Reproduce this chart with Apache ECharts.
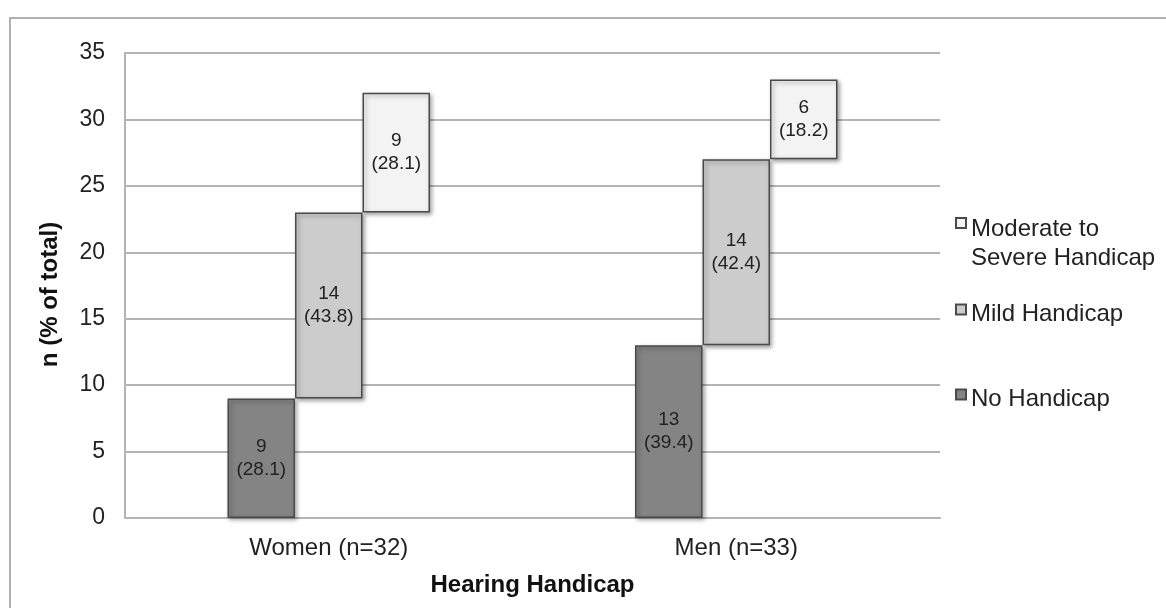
<!DOCTYPE html>
<html>
<head>
<meta charset="utf-8">
<script src="https://cdn.jsdelivr.net/npm/echarts@6/dist/echarts.min.js"></script>
<style>
  html, body { margin: 0; padding: 0; background: #fff; }
  #chart { width: 1166px; height: 608px; }
</style>
</head>
<body>
<div id="chart"></div>
<script>
// Hearing handicap by sex: counts and percentage of each group
const categories = ['Women (n=32)', 'Men (n=33)'];
const noHandicap = [9, 13];
const mildHandicap = [14, 14];
const moderateHandicap = [9, 6];
const noPct = ['28.1', '39.4'];
const mildPct = ['43.8', '42.4'];
const moderatePct = ['28.1', '18.2'];
const yTicks = { min: 0, max: 35, interval: 5 };

const FONT = '"Liberation Sans", Arial, Helvetica, sans-serif';
const GRID_GRAY = '#b4b4b4';
const EDGE = '#4a4a4a';

// each step starts where the previous one ended
const mildBase = noHandicap.map((v) => v);
const moderateBase = noHandicap.map((v, i) => v + mildHandicap[i]);

const barShadow = {
  borderColor: EDGE,
  borderWidth: 1.5,
  shadowColor: 'rgba(0,0,0,0.35)',
  shadowBlur: 4,
  shadowOffsetX: 2,
  shadowOffsetY: 2
};

function valueLabel(pcts) {
  return {
    show: true,
    position: 'inside',
    fontFamily: FONT,
    fontSize: 19,
    lineHeight: 23,
    color: '#222',
    formatter: (p) => p.value + '\n(' + pcts[p.dataIndex] + ')'
  };
}

const spacer = (name, stack, data) => ({
  name: name,
  type: 'bar',
  stack: stack,
  data: data,
  barWidth: 67.5,
  barGap: '0%',
  silent: true,
  itemStyle: { color: 'rgba(0,0,0,0)', borderWidth: 0 },
  emphasis: { disabled: true }
});

// legend text sits a little below its swatch: an invisible spacer line above it
function legendText(padHeight) {
  return {
    fontFamily: FONT,
    fontSize: 24,
    color: '#222',
    rich: {
      pad: { fontSize: 1, lineHeight: padHeight, height: padHeight },
      t: { fontFamily: FONT, fontSize: 24, lineHeight: 29, color: '#222' }
    }
  };
}

const legendBase = {
  orient: 'vertical',
  left: 950,
  icon: 'rect',
  itemWidth: 10,
  itemHeight: 10,
  itemGap: 0,
  selectedMode: false
};

const chart = echarts.init(document.getElementById('chart'), null, { renderer: 'canvas' });

chart.setOption({
  animation: false,
  backgroundColor: '#fff',
  grid: { left: 125, top: 53, right: 226, bottom: 90, containLabel: false, outerBoundsMode: 'none' },
  graphic: [{
    type: 'rect',
    z: -10,
    shape: { x: 10, y: 18, width: 1200, height: 700 },
    style: { fill: 'none', stroke: '#b0b0b0', lineWidth: 2 }
  }],
  legend: [
    Object.assign({}, legendBase, {
      top: 168,
      data: ['Moderate to Severe Handicap'],
      formatter: () => '{pad| }\n{t|Moderate to}\n{t|Severe Handicap}',
      textStyle: legendText(42)
    }),
    Object.assign({}, legendBase, {
      top: 285,
      data: ['Mild Handicap'],
      formatter: (name) => '{pad| }\n{t|' + name + '}',
      textStyle: legendText(10)
    }),
    Object.assign({}, legendBase, {
      top: 370,
      data: ['No Handicap'],
      formatter: (name) => '{pad| }\n{t|' + name + '}',
      textStyle: legendText(10)
    })
  ],
  xAxis: {
    type: 'category',
    data: categories,
    name: 'Hearing Handicap',
    nameLocation: 'middle',
    nameGap: 55,
    nameTextStyle: { fontFamily: FONT, fontSize: 24, fontWeight: 'bold', color: '#111' },
    axisLine: { show: true, lineStyle: { color: GRID_GRAY, width: 2 } },
    axisTick: { show: false },
    axisLabel: { fontFamily: FONT, fontSize: 24, color: '#222', margin: 18 },
    splitLine: { show: false }
  },
  yAxis: {
    type: 'value',
    min: yTicks.min,
    max: yTicks.max,
    interval: yTicks.interval,
    name: 'n (% of total)',
    nameLocation: 'middle',
    nameGap: 63,
    nameRotate: 90,
    nameTextStyle: { fontFamily: FONT, fontSize: 24, fontWeight: 'bold', color: '#111', padding: [0, 18, 0, 0] },
    axisLine: { show: true, lineStyle: { color: GRID_GRAY, width: 2 } },
    axisTick: { show: false },
    axisLabel: { fontFamily: FONT, fontSize: 23, color: '#222', margin: 20 },
    splitLine: { show: true, lineStyle: { color: GRID_GRAY, width: 2 } }
  },
  series: [
    {
      name: 'No Handicap',
      type: 'bar',
      stack: 's1',
      data: noHandicap,
      barWidth: 67.5,
      barGap: '0%',
      itemStyle: Object.assign({ color: '#848484' }, barShadow),
      label: valueLabel(noPct)
    },
    spacer('mildBase', 's2', mildBase),
    {
      name: 'Mild Handicap',
      type: 'bar',
      stack: 's2',
      data: mildHandicap,
      barWidth: 67.5,
      barGap: '0%',
      itemStyle: Object.assign({ color: '#cccccc' }, barShadow),
      label: valueLabel(mildPct)
    },
    spacer('moderateBase', 's3', moderateBase),
    {
      name: 'Moderate to Severe Handicap',
      type: 'bar',
      stack: 's3',
      data: moderateHandicap,
      barWidth: 67.5,
      barGap: '0%',
      itemStyle: Object.assign({ color: '#f3f3f3' }, barShadow),
      label: valueLabel(moderatePct)
    }
  ]
});
</script>
</body>
</html>
